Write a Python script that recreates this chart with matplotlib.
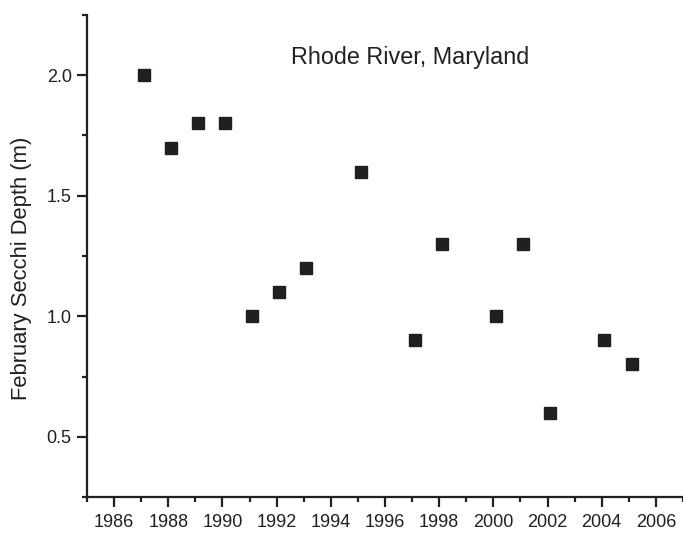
import matplotlib
matplotlib.use("Agg")
import matplotlib.pyplot as plt
from matplotlib.ticker import MultipleLocator

plt.rcParams['font.family'] = ['Liberation Sans', 'DejaVu Sans']

years = [1987.1, 1988.1, 1989.1, 1990.1, 1991.1, 1992.1, 1993.1, 1995.1,
         1997.1, 1998.1, 2000.1, 2001.1, 2002.1, 2004.1, 2005.1]
depth = [2.0, 1.7, 1.8, 1.8, 1.0, 1.1, 1.2, 1.6,
         0.9, 1.3, 1.0, 1.3, 0.6, 0.9, 0.8]
title = "Rhode River, Maryland"
ylabel = "February Secchi Depth (m)"

ink = '#231f20'

fig = plt.figure(figsize=(6.83, 5.33), dpi=100)
ax = fig.add_axes([0.1274, 0.0675, 0.8726, 0.9044])

ax.plot(years, depth, linestyle='none', marker='s', markersize=8.5,
        color=ink, markeredgecolor=ink)

ax.set_xlim(1985, 2007)
ax.set_ylim(0.25, 2.25)
ax.xaxis.set_minor_locator(MultipleLocator(1))
ax.yaxis.set_minor_locator(MultipleLocator(0.25))
ax.set_xticks(range(1986, 2007, 2))
ax.set_yticks([0.5, 1.0, 1.5, 2.0])
ax.set_yticklabels(['0.5', '1.0', '1.5', '2.0'])

for side in ['top', 'right']:
    ax.spines[side].set_visible(False)
for side in ['left', 'bottom']:
    ax.spines[side].set_linewidth(1.6)
    ax.spines[side].set_color(ink)

ax.tick_params(which='major', direction='out', length=7, width=1.6,
               color=ink, labelsize=13, labelcolor=ink, pad=4)
ax.tick_params(axis='x', which='major', pad=5.5)
ax.tick_params(which='minor', direction='out', length=3.6, width=1.6, color=ink)

ax.set_ylabel(ylabel, fontsize=15.8, color=ink)
ax.yaxis.set_label_coords(-0.092, 0.475)
ax.text((410.5 - 87) / 596, (497 - 58) / 482, title, transform=ax.transAxes,
        ha='center', va='center', fontsize=16.8, color=ink)

fig.savefig('out.png', dpi=100)
